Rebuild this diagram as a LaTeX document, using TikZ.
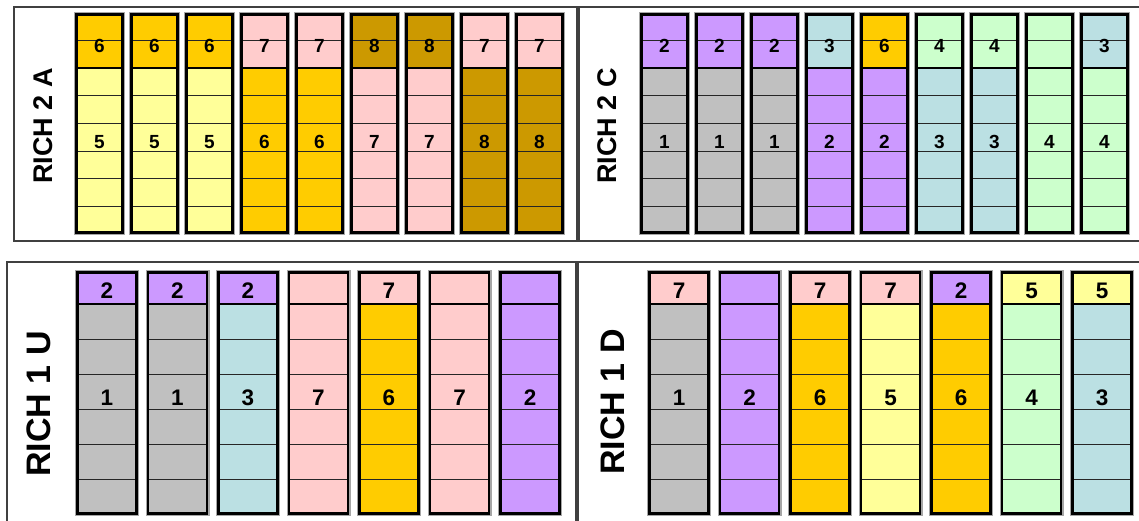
\documentclass[tikz,border=0pt]{standalone}
\usepackage{fontspec}
\setmainfont{Liberation Sans}
\definecolor{cyel}{HTML}{FFFF99}
\definecolor{corg}{HTML}{FFCC00}
\definecolor{cpnk}{HTML}{FFCCCC}
\definecolor{cbrn}{HTML}{CC9900}
\definecolor{cpur}{HTML}{CC99FF}
\definecolor{cgry}{HTML}{C0C0C0}
\definecolor{ccyn}{HTML}{BBE0E3}
\definecolor{cgrn}{HTML}{CCFFCC}
\tikzset{
  colshadow/.style={draw=black!35, line width=5pt},
  colborder/.style={draw=black, line width=2.8pt},
  rowline/.style={draw=black!85, line width=0.9pt},
  framebox/.style={draw=black!75, line width=1.2pt},
  numtop/.style={font=\bfseries\fontsize{19}{19}\selectfont, inner sep=0pt},
  numbot/.style={font=\bfseries\fontsize{22.5}{22.5}\selectfont, inner sep=0pt},
  lbltop/.style={font=\bfseries\fontsize{27}{27}\selectfont, rotate=90, inner sep=0pt},
  lblbot/.style={font=\bfseries\fontsize{34}{34}\selectfont, rotate=90, inner sep=0pt},
}
% #1 name, #2 x, #3 head fill, #4 head num, #5 body fill, #6 body num
\newcommand\topcol[6]{%
  \begin{scope}[shift={(#2,0)}]
    \draw[colshadow] (1.5,14.5) rectangle (47.5,232.5);
    \fill[#3] (1.5,14.5) rectangle (47.5,68);
    \fill[#5] (1.5,68) rectangle (47.5,232.5);
    \foreach \yy in {40.6,95.7,123.3,151,178.7,206.3} {\draw[rowline] (1.5,\yy) -- (47.5,\yy);}
    \draw[colborder] (1.5,14.5) rectangle (47.5,68);
    \draw[colborder] (1.5,68) rectangle (47.5,232.5);
    \node[numtop] (#1h) at (24.5,46) {#4};
    \node[numtop] (#1b) at (24.5,142) {#6};
  \end{scope}}
\newcommand\botcol[6]{%
  \begin{scope}[shift={(#2,0)}]
    \draw[colshadow] (1.5,272.5) rectangle (60.5,513.5);
    \fill[#3] (1.5,272.5) rectangle (60.5,304);
    \fill[#5] (1.5,304) rectangle (60.5,513.5);
    \foreach \yy in {339.2,374.3,409.5,444.7,479.8} {\draw[rowline] (1.5,\yy) -- (60.5,\yy);}
    \draw[colborder] (1.5,272.5) rectangle (60.5,304);
    \draw[colborder] (1.5,304) rectangle (60.5,513.5);
    \node[numbot] (#1h) at (31,291) {#4};
    \node[numbot] (#1b) at (31,398) {#6};
  \end{scope}}
\begin{document}
\begin{tikzpicture}[x=1pt,y=-1pt]
\fill[white] (0,0) rectangle (1139,521);
\useasboundingbox (0,0) rectangle (1139,521);
% frames
\draw[framebox] (14,7) rectangle (577,241);
\draw[framebox] (1145,7) -- (579,7) -- (579,241) -- (1145,241);
\draw[framebox] (7,530) -- (7,262) -- (576,262) -- (576,530);
\draw[framebox] (1145,262) -- (578,262) -- (578,530);
% labels
\node[lbltop] (lA) at (43,126) {RICH 2 A};
\node[lbltop] (lC) at (607,126) {RICH 2 C};
\node[lblbot] (lU) at (39,404) {RICH 1 U};
\node[lblbot] (lD) at (613,402) {RICH 1 D};
% RICH 2 A
\topcol{a1}{75}{corg}{6}{cyel}{5}
\topcol{a2}{130}{corg}{6}{cyel}{5}
\topcol{a3}{185}{corg}{6}{cyel}{5}
\topcol{a4}{240}{cpnk}{7}{corg}{6}
\topcol{a5}{295}{cpnk}{7}{corg}{6}
\topcol{a6}{350}{cbrn}{8}{cpnk}{7}
\topcol{a7}{405}{cbrn}{8}{cpnk}{7}
\topcol{a8}{460}{cpnk}{7}{cbrn}{8}
\topcol{a9}{515}{cpnk}{7}{cbrn}{8}
% RICH 2 C
\topcol{c1}{640}{cpur}{2}{cgry}{1}
\topcol{c2}{695}{cpur}{2}{cgry}{1}
\topcol{c3}{750}{cpur}{2}{cgry}{1}
\topcol{c4}{805}{ccyn}{3}{cpur}{2}
\topcol{c5}{860}{corg}{6}{cpur}{2}
\topcol{c6}{915}{cgrn}{4}{ccyn}{3}
\topcol{c7}{970}{cgrn}{4}{ccyn}{3}
\topcol{c8}{1025}{cgrn}{}{cgrn}{4}
\topcol{c9}{1080}{ccyn}{3}{cgrn}{4}
% RICH 1 U
\botcol{u1}{76}{cpur}{2}{cgry}{1}
\botcol{u2}{146.5}{cpur}{2}{cgry}{1}
\botcol{u3}{217}{cpur}{2}{ccyn}{3}
\botcol{u4}{287.5}{cpnk}{}{cpnk}{7}
\botcol{u5}{358}{cpnk}{7}{corg}{6}
\botcol{u6}{428.5}{cpnk}{}{cpnk}{7}
\botcol{u7}{499}{cpur}{}{cpur}{2}
% RICH 1 D
\botcol{d1}{648}{cpnk}{7}{cgry}{1}
\botcol{d2}{718.5}{cpur}{}{cpur}{2}
\botcol{d3}{789}{cpnk}{7}{corg}{6}
\botcol{d4}{859.5}{cpnk}{7}{cyel}{5}
\botcol{d5}{930}{cpur}{2}{corg}{6}
\botcol{d6}{1000.5}{cyel}{5}{cgrn}{4}
\botcol{d7}{1071}{cyel}{5}{ccyn}{3}
\end{tikzpicture}
\end{document}
